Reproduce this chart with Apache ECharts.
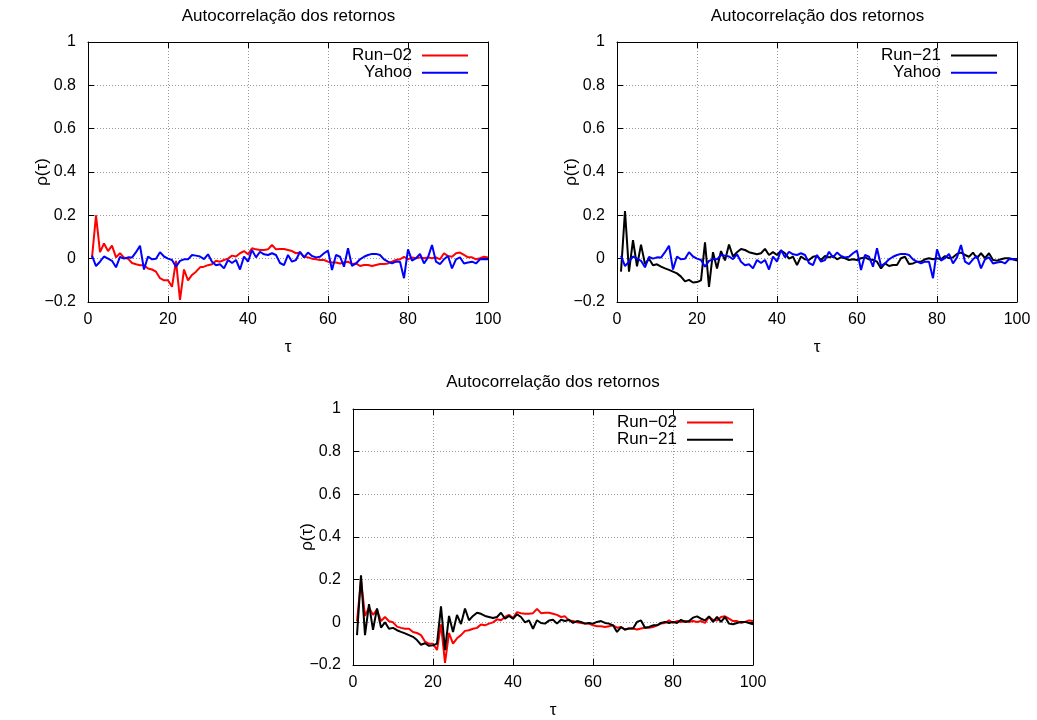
<!DOCTYPE html>
<html><head><meta charset="utf-8">
<script src="https://cdn.jsdelivr.net/npm/echarts@6/dist/echarts.min.js"></script>
<style>html,body{margin:0;padding:0;background:#fff}#c{width:1037px;height:720px}</style>
</head><body><div id="c"></div>
<script>
// lag axis (tau = 1..100)
const tau = Array.from({length: 100}, (_, i) => i + 1);

// Run-02 autocorrelation (red)
const run02 = [
 0.005, 0.200, 0.030, 0.070, 0.035, 0.060, 0.006, 0.025, 0.005, 0.000,
 -0.020, -0.026, -0.030, -0.030, -0.045, -0.050, -0.060, -0.090, -0.100, -0.100,
 -0.130, -0.010, -0.190, -0.050, -0.100, -0.075, -0.060, -0.040, -0.037, -0.030,
 -0.026, -0.010, -0.014, -0.006, 0.000, 0.014, 0.010, 0.025, 0.035, 0.020,
 0.048, 0.043, 0.040, 0.040, 0.043, 0.063, 0.043, 0.045, 0.045, 0.040,
 0.035, 0.025, 0.028, 0.009, 0.006, 0.000, -0.003, -0.006, -0.006, -0.014,
 -0.018, -0.018, -0.022, -0.018, -0.014, -0.025, -0.022, -0.034, -0.029, -0.029,
 -0.034, -0.029, -0.025, -0.025, -0.022, -0.014, -0.006, -0.003, 0.009, -0.003,
 0.006, 0.002, 0.006, 0.002, 0.006, 0.002, 0.006, -0.003, 0.025, 0.012,
 0.009, 0.025, 0.028, 0.017, 0.006, 0.006, -0.003, 0.002, 0.009, 0.006
];

// Run-21 autocorrelation (black)
const run21 = [
 -0.060, 0.220, -0.060, 0.085, -0.035, 0.065, -0.025, 0.000, -0.030, -0.026,
 -0.037, -0.045, -0.052, -0.060, -0.068, -0.083, -0.105, -0.098, -0.110, -0.108,
 -0.100, 0.075, -0.130, 0.030, -0.045, 0.035, -0.008, 0.065, 0.010, 0.030,
 0.045, 0.040, 0.030, 0.025, 0.020, 0.025, 0.045, 0.017, 0.030, 0.017,
 0.037, 0.025, 0.000, 0.009, -0.030, 0.010, -0.003, -0.006, 0.009, 0.012,
 -0.006, 0.012, 0.006, 0.012, -0.003, 0.006, 0.002, -0.006, -0.003, -0.006,
 0.002, 0.006, -0.003, -0.006, -0.014, -0.045, -0.022, -0.034, -0.029, -0.029,
 0.002, 0.009, -0.025, -0.022, -0.014, -0.014, -0.003, 0.002, -0.003, 0.002,
 -0.003, 0.012, 0.002, 0.006, 0.022, 0.028, 0.017, 0.009, 0.028, 0.002,
 0.025, 0.002, 0.025, -0.006, -0.009, -0.003, 0.002, 0.002, -0.003, -0.009
];

// Yahoo autocorrelation (blue)
const yahoo = [
 0.014, -0.034, -0.014, 0.010, 0.000, -0.010, -0.040, 0.008, 0.000, 0.006,
 0.005, 0.030, 0.060, -0.050, 0.010, -0.003, 0.000, 0.030, 0.010, 0.000,
 -0.006, -0.037, -0.010, -0.003, -0.003, 0.017, 0.014, 0.010, -0.002, 0.020,
 -0.014, -0.030, -0.026, -0.045, -0.006, -0.020, -0.006, -0.050, 0.010, -0.014,
 0.040, 0.006, 0.032, 0.020, 0.017, 0.025, 0.017, -0.020, -0.030, 0.017,
 -0.014, -0.006, 0.032, 0.006, 0.028, 0.012, 0.006, 0.009, 0.025, 0.037,
 -0.052, 0.017, 0.009, -0.037, 0.048, -0.034, -0.022, -0.003, 0.009, 0.017,
 0.022, 0.022, 0.017, -0.003, -0.014, -0.022, -0.014, -0.014, -0.090, 0.043,
 -0.009, 0.002, 0.022, -0.022, 0.006, 0.063, -0.014, -0.025, -0.003, 0.012,
 -0.045, -0.003, 0.006, -0.022, -0.018, -0.014, -0.022, -0.003, -0.003, -0.003
];

const titleText = 'Autocorrelação dos retornos';
const xName = 'τ';
const yName = 'ρ(τ)';
const xTicks = [0, 20, 40, 60, 80, 100];
const yTicks = [-0.2, 0, 0.2, 0.4, 0.6, 0.8, 1];

const FONT = "'Liberation Sans', Arial, Helvetica, sans-serif";
const FS = 16;

const panels = [
  {left: 88, top: 42, width: 400, height: 260, cx: 288.5, ty: 8,
   lines: [['Run−02', run02, '#ff0000'], ['Yahoo', yahoo, '#0000ff']], legRight: 569},
  {left: 617, top: 42, width: 400, height: 260, cx: 817.5, ty: 8,
   lines: [['Run−21', run21, '#000000'], ['Yahoo', yahoo, '#0000ff']], legRight: 40},
  {left: 353, top: 409, width: 400, height: 256, cx: 553, ty: 374,
   lines: [['Run−02', run02, '#ff0000'], ['Run−21', run21, '#000000']], legRight: 304}
];

function fmtY(v) {
  const r = Math.round(v * 10) / 10;
  return String(r).replace('-', '−');
}

const grid = [], xAxis = [], yAxis = [], series = [], title = [], legend = [];
panels.forEach((p, gi) => {
  grid.push({left: p.left, top: p.top, width: p.width, height: p.height, containLabel: false});
  title.push({text: titleText, left: p.cx, top: p.ty, textAlign: 'center', padding: 0,
    textStyle: {fontFamily: FONT, fontSize: 17, fontWeight: 'normal', color: '#000'}});
  const tickStyle = {show: true, inside: true, length: 6, lineStyle: {color: '#000', width: 1}};
  xAxis.push({type: 'value', gridIndex: gi, min: xTicks[0], max: xTicks[xTicks.length - 1], interval: 20,
    position: 'bottom',
    name: xName, nameLocation: 'middle', nameGap: 37, nameMoveOverlap: false,
    nameTextStyle: {fontFamily: FONT, fontSize: 17, color: '#000'},
    axisLine: {show: true, onZero: false, lineStyle: {color: '#000', width: 1}},
    axisTick: tickStyle,
    axisLabel: {fontFamily: FONT, fontSize: FS, color: '#000', margin: 10},
    splitLine: {show: true, lineStyle: {color: '#999', type: [1, 2], width: 1}}
  });
  yAxis.push({type: 'value', gridIndex: gi, min: yTicks[0], max: yTicks[yTicks.length - 1], interval: 0.2,
    position: 'left',
    name: yName, nameLocation: 'middle', nameGap: 37, nameRotate: 90, nameMoveOverlap: false,
    nameTextStyle: {fontFamily: FONT, fontSize: 17, color: '#000'},
    axisLine: {show: true, onZero: false, lineStyle: {color: '#000', width: 1}},
    axisTick: tickStyle,
    axisLabel: {fontFamily: FONT, fontSize: FS, color: '#000', margin: 12, formatter: fmtY},
    splitLine: {show: true, lineStyle: {color: '#999', type: [1, 2], width: 1}}
  });
  p.lines.forEach((l, li) => {
    series.push({
      type: 'line', name: l[0], xAxisIndex: gi, yAxisIndex: gi,
      data: tau.map((t, i) => [t, l[1][i]]),
      symbol: 'none', showSymbol: false, silent: true, animation: false,
      z: 2 + li,
      lineStyle: {color: l[2], width: 2}, itemStyle: {color: l[2]}
    });
    legend.push({
      data: [{name: l[0], icon: 'rect'}], orient: 'vertical', align: 'right',
      right: p.legRight, top: p.top + 5 + li * 17.3, padding: 0,
      itemWidth: 46, itemHeight: 2, selectedMode: false,
      textStyle: {fontFamily: FONT, fontSize: 17, color: '#000', lineHeight: 17, padding: [0, 5, 0, 0]}
    });
  });
});
panels.forEach((p, gi) => {
  xAxis.push({type: 'value', gridIndex: gi, min: 0, max: 100, interval: 20, position: 'top',
    axisLine: {show: true, onZero: false, lineStyle: {color: '#000', width: 1}},
    axisTick: {show: true, inside: true, length: 6, lineStyle: {color: '#000'}},
    axisLabel: {show: false}, splitLine: {show: false}});
  yAxis.push({type: 'value', gridIndex: gi, min: -0.2, max: 1, interval: 0.2, position: 'right',
    axisLine: {show: true, onZero: false, lineStyle: {color: '#000', width: 1}},
    axisTick: {show: true, inside: true, length: 6, lineStyle: {color: '#000'}},
    axisLabel: {show: false}, splitLine: {show: false}});
});

const chart = echarts.init(document.getElementById('c'), null, {renderer: 'canvas'});
chart.setOption({
  animation: false,
  backgroundColor: '#fff',
  title, legend, grid, xAxis, yAxis, series
});
</script>
</body></html>
